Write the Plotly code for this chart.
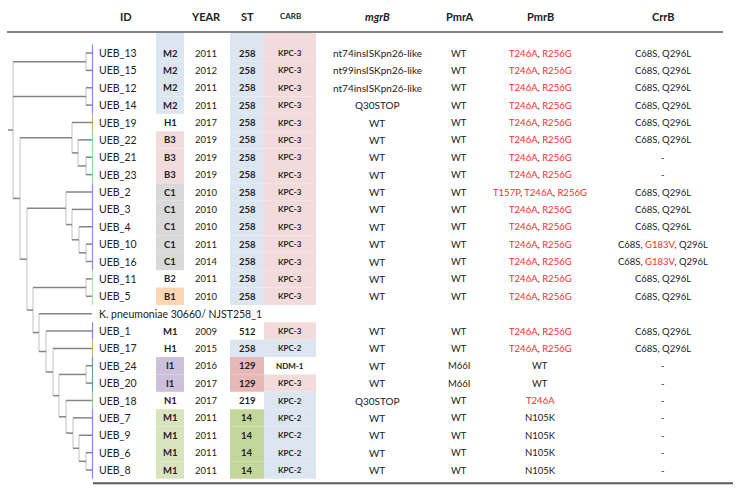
import plotly.graph_objects as go

# ---------------- DATA ----------------
ids = ["UEB_13", "UEB_15", "UEB_12", "UEB_14", "UEB_19", "UEB_22", "UEB_21", "UEB_23",
       "UEB_2", "UEB_3", "UEB_4", "UEB_10", "UEB_16", "UEB_11", "UEB_5",
       "K. pneumoniae 30660/ NJST258_1",
       "UEB_1", "UEB_17", "UEB_24", "UEB_20", "UEB_18", "UEB_7", "UEB_9", "UEB_6", "UEB_8"]
groups = ["M2", "M2", "M2", "M2", "H1", "B3", "B3", "B3", "C1", "C1", "C1", "C1", "C1", "B2", "B1",
          "", "M1", "H1", "I1", "I1", "N1", "M1", "M1", "M1", "M1"]
years = ["2011", "2012", "2011", "2011", "2017", "2019", "2019", "2019", "2010", "2010", "2010", "2011",
         "2014", "2011", "2010", "", "2009", "2015", "2016", "2017", "2017", "2011", "2011", "2011", "2011"]
st = ["258"] * 15 + ["", "512", "258", "129", "129", "219", "14", "14", "14", "14"]
carb = ["KPC-3"] * 15 + ["", "KPC-3", "KPC-2", "NDM-1", "KPC-3", "KPC-2", "KPC-2", "KPC-2", "KPC-2", "KPC-2"]
mgrb = ["nt74insISKpn26-like", "nt99insISKpn26-like", "nt74insISKpn26-like", "Q30STOP",
        "WT", "WT", "WT", "WT", "WT", "WT", "WT", "WT", "WT", "WT", "WT", "",
        "WT", "WT", "WT", "WT", "Q30STOP", "WT", "WT", "WT", "WT"]
pmra = ["WT"] * 15 + ["", "WT", "WT", "M66I", "M66I", "WT", "WT", "WT", "WT", "WT"]
pmrb = (["T246A, R256G"] * 8 + ["T157P, T246A, R256G"] + ["T246A, R256G"] * 6 + [""] +
        ["T246A, R256G"] * 2 + ["WT", "WT", "T246A", "N105K", "N105K", "N105K", "N105K"])
crrb = (["C68S, Q296L"] * 6 + ["-", "-"] + ["C68S, Q296L"] * 3 + ["C68S, G183V, Q296L"] * 2 +
        ["C68S, Q296L"] * 2 + [""] + ["C68S, Q296L"] * 2 + ["-"] * 7)
highlighted_mutations = ["T246A", "R256G", "T157P", "G183V"]

headers = ["ID", "", "YEAR", "ST", "CARB", "<i>mgrB</i>", "PmrA", "PmrB", "CrrB"]

# tree (branch lengths in arbitrary units)
newick = ("((UEB_13:6,UEB_15:6):73,(UEB_12:6,UEB_14:6):73,"
          "((UEB_19:20,(UEB_22:14,(UEB_21:6,UEB_23:6):8):6):52,"
          "((UEB_2:26,(UEB_3:20,(UEB_4:13,(UEB_10:6,UEB_16:6):7):7):6):39,"
          "((UEB_11:6,UEB_5:6):53,(K. pneumoniae 30660/ NJST258_1:53,(UEB_1:46,(UEB_17:39,"
          "((UEB_24:6,UEB_20:6):27,(UEB_18:26,(UEB_7:19,(UEB_9:13,(UEB_6:6,UEB_8:6):7):6):7):7)"
          ":6):7):7):6):6):7):7);")

# ---------------- STYLES ----------------
W, H = 740, 493
FONT = "Lato"
TXT = "#222222"
RED = "#ff2d2d"
BLUE = "#dce6f1"
PINK = "#f2dcdb"
group_fill = [BLUE] * 4 + [None] + [PINK] * 3 + ["#d9d9d9"] * 5 + [None, "#fcd5b4", None, None, None,
              "#ccc0da", "#ccc0da", None] + ["#d8e4bc"] * 4
st_fill_map = {"258": BLUE, "129": "#e6b8b7", "14": "#c4d79b"}
carb_fill_map = {"KPC-3": PINK, "KPC-2": BLUE}
bar_colors = (["#7f8fe6"] * 4 + ["#c9b26b"] + ["#8fe08f"] * 3 + ["#8c8cf0"] * 5 + ["#a8eaa8"] * 2 +
              [None, "#7f8fe6", "#c9b26b", "#5f9ea0", "#5f9ea0", "#8fd08f"] + ["#7f8fe6"] * 4)

Y0, ROW_H = 53.0, 17.375
HEADER_Y, HEADER_LINE_Y = 16, 32
TREE_X0, TREE_SCALE = 13, 1.0
BAR_X = 92.5
ID_X = 96.5
col_x = {"grp": 170, "year": 206, "st": 247, "carb": 290, "mgrb": 377, "pmra": 459, "pmrb": 540, "crrb": 663}
header_x = [126, 170, 206, 247, 290, 377, 459, 540, 663]
box_cols = {"grp": (156, 184), "st": (230, 264), "carb": (264, 316)}

n = len(ids)
row_y = [Y0 + i * ROW_H for i in range(n)]


def row_top(i):
    return HEADER_LINE_Y + 0.5 if i == 0 else row_y[i] - ROW_H / 2


def row_bot(i):
    return row_y[i] + ROW_H / 2


# ---------------- TREE PARSE ----------------
def parse_newick(s):
    pos = 0

    def node():
        nonlocal pos
        children = []
        name = ""
        if s[pos] == "(":
            pos += 1
            children.append(node())
            while s[pos] == ",":
                pos += 1
                children.append(node())
            pos += 1
        else:
            start = pos
            while s[pos] not in ":,();":
                pos += 1
            name = s[start:pos]
        length = 0.0
        if s[pos] == ":":
            pos += 1
            start = pos
            while s[pos] not in ",();":
                pos += 1
            length = float(s[start:pos])
        return {"name": name, "children": children, "len": length}

    return node()


tree = parse_newick(newick)
leaf_index = {name: i for i, name in enumerate(ids)}

hx, hy, vx, vy = [], [], [], []


def layout(nd, depth, parent_x):
    x = TREE_X0 + depth * TREE_SCALE
    if nd["children"]:
        ys = [layout(c, depth + c["len"], x) for c in nd["children"]]
        y = (ys[0] + ys[-1]) / 2
        vx.extend([x, x, None])
        vy.extend([ys[0], ys[-1], None])
    else:
        y = row_y[leaf_index[nd["name"]]]
    hx.extend([parent_x, x, None])
    hy.extend([y, y, None])
    return y


layout(tree, 0.0, TREE_X0 - 5)

fig = go.Figure()
fig.add_trace(go.Scatter(x=vx, y=vy, mode="lines", line=dict(color="#cccccc", width=1.2),
                         hoverinfo="skip", showlegend=False))
fig.add_trace(go.Scatter(x=hx, y=hy, mode="lines", line=dict(color="#858585", width=1.5),
                         hoverinfo="skip", showlegend=False))

shapes = []
# coloured clade bar
for i, c in enumerate(bar_colors):
    if c:
        shapes.append(dict(type="line", x0=BAR_X, x1=BAR_X, y0=row_y[i] - ROW_H / 2, y1=row_y[i] + ROW_H / 2,
                           line=dict(color=c, width=1.2), layer="above"))

# cell fills
for i in range(n):
    fills = {"grp": group_fill[i], "st": st_fill_map.get(st[i]), "carb": carb_fill_map.get(carb[i])}
    for k, f in fills.items():
        if f:
            x0, x1 = box_cols[k]
            shapes.append(dict(type="rect", x0=x0, x1=x1, y0=row_top(i), y1=row_bot(i),
                               fillcolor=f, line=dict(width=0), layer="below"))

# rules
shapes.append(dict(type="line", x0=7, x1=723, y0=HEADER_LINE_Y, y1=HEADER_LINE_Y,
                   line=dict(color="#5a5a5a", width=1.5)))
bottom_y = row_bot(n - 1) + 4.5
shapes.append(dict(type="line", x0=93, x1=733, y0=bottom_y, y1=bottom_y,
                   line=dict(color="#5a5a5a", width=2)))

ann = []


def txt(x, y, s, size, bold=False, xanchor="center", color=TXT):
    if not s:
        return
    if bold:
        s = "<b>" + s + "</b>"
    ann.append(dict(x=x, y=y, text=s, showarrow=False, xanchor=xanchor, yanchor="middle",
                    font=dict(family=FONT, size=size, color=color)))


def mut_text(s):
    parts = []
    for tok in s.split(", "):
        if tok in highlighted_mutations:
            parts.append('<span style="color:%s">%s</span>' % (RED, tok))
        else:
            parts.append(tok)
    return ", ".join(parts)


for hx_, h in zip(header_x, headers):
    if h:
        txt(hx_, HEADER_Y, h, 8 if h == "CARB" else 11, bold=True)

for i in range(n):
    y = row_y[i]
    txt(ID_X, y, ids[i], 10.5, xanchor="left")
    txt(col_x["grp"], y, groups[i], 9.5, bold=True)
    txt(col_x["year"], y, years[i], 9.5)
    txt(col_x["st"], y, st[i], 9.5, bold=True)
    txt(col_x["carb"], y, carb[i], 8, bold=True)
    txt(col_x["mgrb"], y, mgrb[i], 10)
    txt(col_x["pmra"], y, pmra[i], 9.5)
    txt(col_x["pmrb"], y, mut_text(pmrb[i]), 9.5)
    txt(col_x["crrb"], y, mut_text(crrb[i]), 9.5)

fig.update_layout(
    width=W, height=H, margin=dict(l=0, r=0, t=0, b=0),
    paper_bgcolor="white", plot_bgcolor="white",
    xaxis=dict(range=[0, W], visible=False, fixedrange=True),
    yaxis=dict(range=[H, 0], visible=False, fixedrange=True),
    shapes=shapes, annotations=ann, showlegend=False,
)
fig.write_html("out.html", config={"displayModeBar": False},
               post_script="document.body.style.margin='0';document.body.style.overflow='hidden';")
